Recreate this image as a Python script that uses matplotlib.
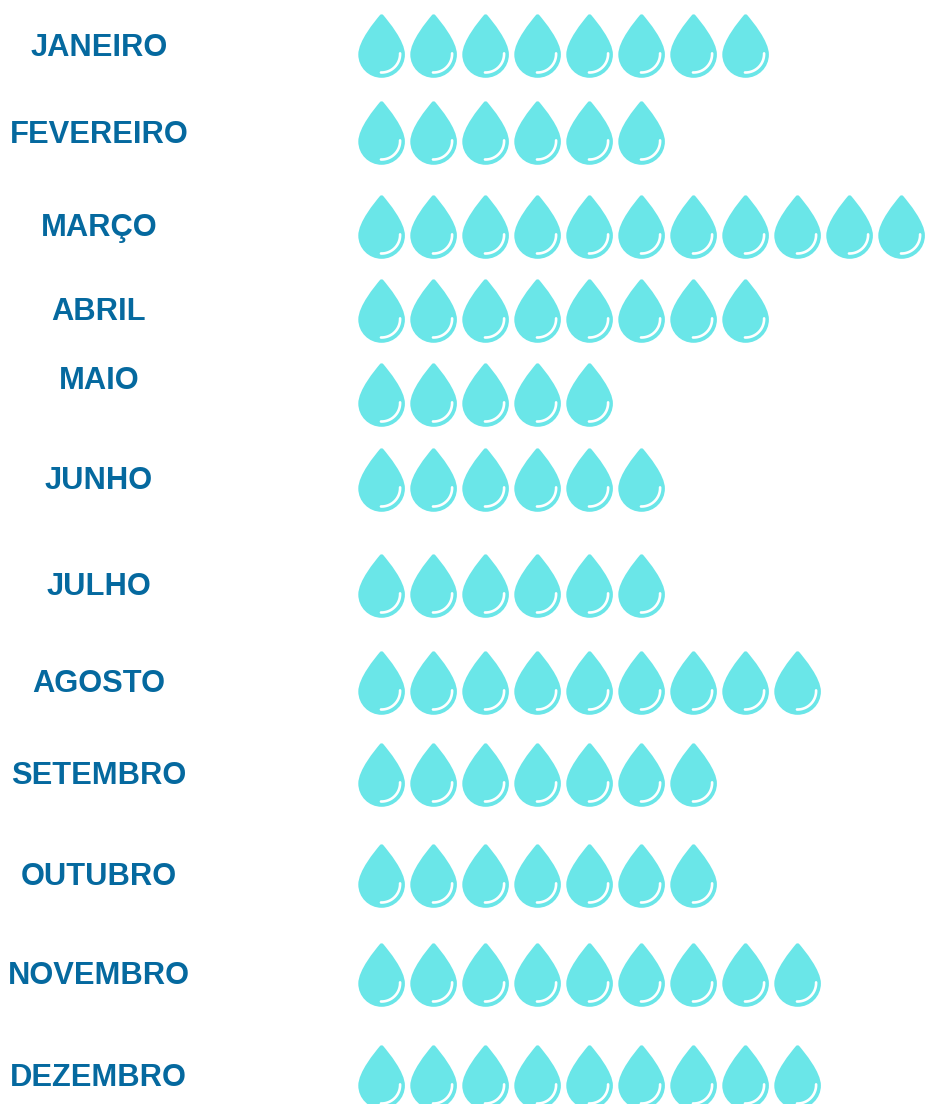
import matplotlib
matplotlib.use("Agg")
import matplotlib.pyplot as plt
import numpy as np
from matplotlib.path import Path
from matplotlib.patches import PathPatch
from matplotlib.transforms import Affine2D

months = ["JANEIRO", "FEVEREIRO", "MARÇO", "ABRIL", "MAIO", "JUNHO", "JULHO",
          "AGOSTO", "SETEMBRO", "OUTUBRO", "NOVEMBRO", "DEZEMBRO"]
drops = [8, 6, 11, 8, 5, 6, 6, 9, 7, 7, 9, 9]

# layout (pixels)
row_top = [14, 101, 195, 279, 363, 448, 554, 651, 743, 844, 943, 1045]
label_center = [46, 133, 226, 310, 379, 479, 585, 682, 774, 875, 974, 1076]
W, H = 925, 1104
first_x, pitch = 381.6, 52
label_x = 98.8
DROP = "#6AE6E8"
TEXT = "#05699F"

k = 0.5523
r = 23.3
cy = 40.5
drop_path = Path(
    [(-1.6, 1.0), (0, -0.6), (1.6, 1.0),
     (7, 7.5), (r, 27), (r, cy),
     (r, cy + k * r), (k * r, 63.8), (0, 63.8),
     (-k * r, 63.8), (-r, cy + k * r), (-r, cy),
     (-r, 27), (-7, 7.5), (-1.6, 1.0), (-1.6, 1.0)],
    [Path.MOVETO, Path.CURVE3, Path.CURVE3,
     Path.CURVE4, Path.CURVE4, Path.CURVE4,
     Path.CURVE4, Path.CURVE4, Path.CURVE4,
     Path.CURVE4, Path.CURVE4, Path.CURVE4,
     Path.CURVE4, Path.CURVE4, Path.CURVE4, Path.CLOSEPOLY])

theta = np.linspace(-2, 92, 30) * np.pi / 180
hl_x = 18.5 * np.cos(theta)
hl_y = 40.0 + 18.5 * np.sin(theta)
hl_path = Path(np.column_stack([hl_x, hl_y]))

fig = plt.figure(figsize=(W / 100, H / 100), dpi=100, facecolor="white")
ax = fig.add_axes([0, 0, 1, 1])
ax.set_xlim(0, W)
ax.set_ylim(H, 0)
ax.axis("off")

for month, n, top, lc in zip(months, drops, row_top, label_center):
    ax.text(label_x, lc + 10.2, month, ha="center", va="baseline",
            family="Liberation Sans", weight="bold", fontsize=22.2, color=TEXT)
    for i in range(n):
        t = Affine2D().translate(first_x + i * pitch, top) + ax.transData
        ax.add_patch(PathPatch(drop_path, facecolor=DROP, edgecolor="none", transform=t))
        ax.add_patch(PathPatch(hl_path, facecolor="none", edgecolor="white", lw=1.9,
                               capstyle="round", transform=t))

fig.savefig("out.png", dpi=100, facecolor="white")
